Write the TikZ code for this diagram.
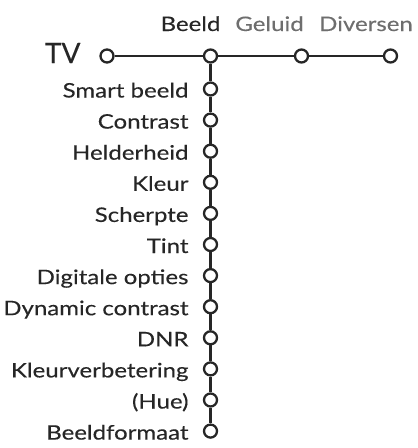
\documentclass[tikz,border=0pt]{standalone}
\usepackage{fontspec}
\setmainfont{Lato}[FakeStretch=1.2, FakeBold=0.25]
\newfontfamily\tvfont{Lato}[FakeBold=0.25]
\definecolor{ink}{HTML}{262626}
\definecolor{dim}{HTML}{6E6E6E}
\begin{document}
\begin{tikzpicture}[x=1pt, y=-1pt,
    knob/.style={circle, draw=ink, fill=white, line width=2.3pt, inner sep=0pt, minimum size=13pt},
    wire/.style={ink, line width=2.2pt},
    item/.style={anchor=base east, text=ink, font=\fontsize{20}{20}\selectfont},
    tab/.style={anchor=base, font=\fontsize{20}{20}\selectfont}]
    \useasboundingbox (0,0) rectangle (418,448);

    % Main row
    \node[knob] (tv) at (107,56) {};
    \node[knob] (beeld) at (210.5,56) {};
    \node[knob] (geluid) at (301.5,56) {};
    \node[knob] (diversen) at (390.5,56) {};
    \node[anchor=base east, text=ink, font=\tvfont\fontsize{28}{28}\selectfont] (tvtext) at (84,63) {TV};

    % Tabs
    \node[tab, text=ink] (tbeeld) at (190.5,31) {Beeld};
    \node[tab, text=dim] (tgeluid) at (269.5,31) {Geluid};
    \node[tab, text=dim] (tdiversen) at (366,31) {Diversen};

    % Beeld menu
    \foreach \t [count=\i] in {Smart beeld, Contrast, Helderheid, Kleur, Scherpte, Tint,
        Digitale opties, Dynamic contrast, DNR, Kleurverbetering, (Hue), Beeldformaat} {
        \node[knob] (k\i) at (210.5, {89+31.1*(\i-1)}) {};
        \node[item] (t\i) at (192, {97.5+31.1*(\i-1)}) {\t};
    }

    % Connectors
    \draw[wire] (tv) -- (beeld) -- (geluid) -- (diversen);
    \draw[wire] (beeld) -- (k1);
    \foreach \i [evaluate=\i as \j using int(\i-1)] in {2,...,12}
        \draw[wire] (k\j) -- (k\i);
\end{tikzpicture}
\end{document}
